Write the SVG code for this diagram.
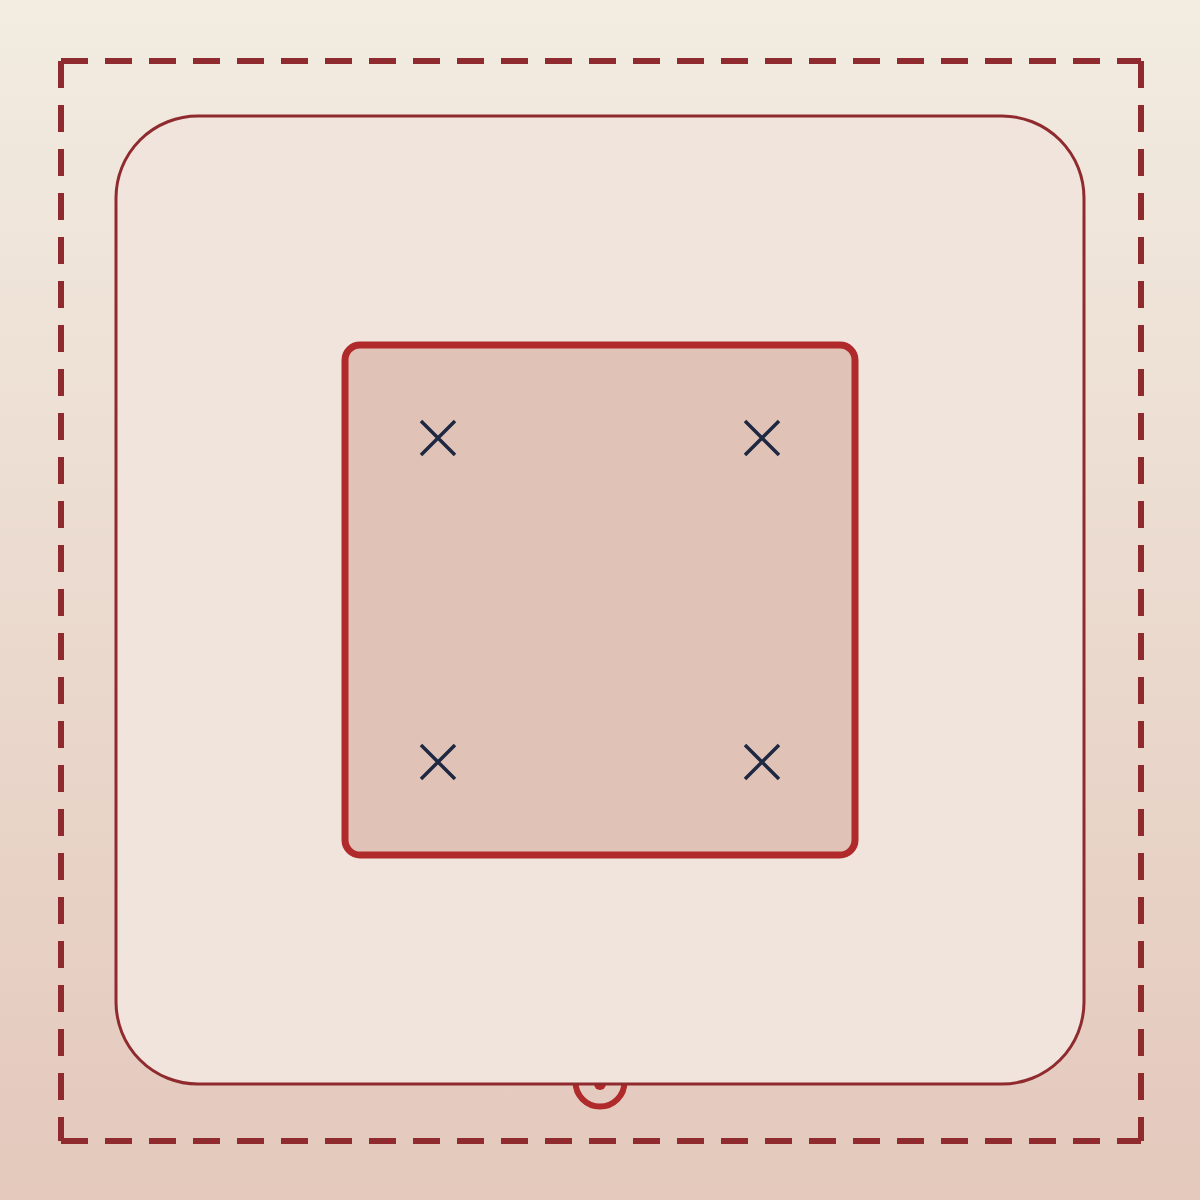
<svg xmlns="http://www.w3.org/2000/svg" width="1200" height="1200" viewBox="0 0 1200 1200">
<defs>
<linearGradient id="bg" x1="0" y1="0" x2="0" y2="1">
<stop offset="0" stop-color="#f2ece1"/>
<stop offset="1" stop-color="#e4c8bc"/>
</linearGradient>
<style>
.x{stroke:#1e2842;stroke-width:3.5;fill:none}
.dash{stroke:#8f2b2e;stroke-width:6;stroke-dasharray:27 17;fill:none}
</style>
</defs>
<rect width="1200" height="1200" fill="url(#bg)"/>
<g id="boundary">
<line class="dash" x1="61" y1="61" x2="1141" y2="61"/>
<line class="dash" x1="1141" y1="61" x2="1141" y2="1141"/>
<line class="dash" x1="61" y1="1141" x2="1141" y2="1141"/>
<line class="dash" x1="61" y1="61" x2="61" y2="1141"/>
</g>
<g id="port">
<circle cx="600" cy="1082" r="24.5" fill="none" stroke="#b0292b" stroke-width="6"/>
<circle cx="600" cy="1084" r="6" fill="#b0292b"/>
</g>
<g id="outer">
<rect x="116" y="116" width="968" height="968" rx="82" fill="#f0e4dc" stroke="#8f2b2e" stroke-width="3"/>
</g>
<g id="inner">
<rect x="345" y="345" width="510" height="510" rx="15" fill="#e0c3b6" stroke="#b0292b" stroke-width="7"/>
</g>
<g id="marks">
<path class="x" d="M421 421L455 455M455 421L421 455"/>
<path class="x" d="M745 421L779 455M779 421L745 455"/>
<path class="x" d="M421 745L455 779M455 745L421 779"/>
<path class="x" d="M745 745L779 779M779 745L745 779"/>
</g>
</svg>
